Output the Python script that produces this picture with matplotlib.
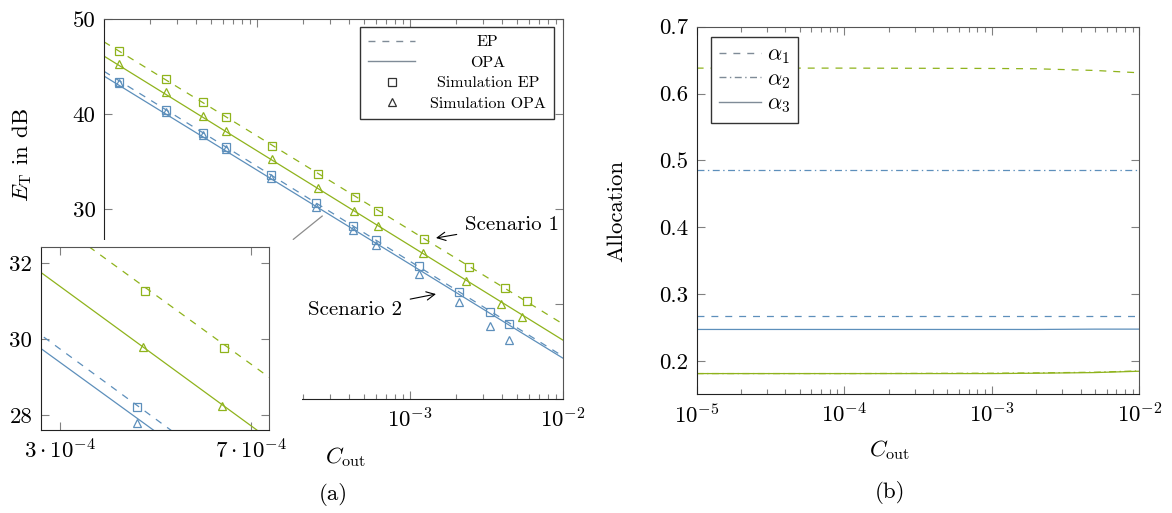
import numpy as np
import matplotlib
matplotlib.use("Agg")
import matplotlib.pyplot as plt
from matplotlib.patches import Rectangle
from matplotlib.lines import Line2D
from matplotlib.ticker import FixedLocator, LogLocator, NullFormatter, NullLocator

plt.rcParams["font.family"] = "cmr10"
plt.rcParams["mathtext.fontset"] = "cm"
plt.rcParams["axes.unicode_minus"] = False
plt.rcParams["font.size"] = 16.5
plt.rcParams["lines.scale_dashes"] = False

GREEN = "#8fb31c"
BLUE = "#5d8fbb"
HANDLE = "#7f8b97"

# ---- panel (a): E_T over C_out ----
c_line = [1e-5, 1e-2]
s1_ep_line = [47.6, 17.9]
s1_opa_line = [46.1, 16.2]
s2_ep_line = [44.5, 14.5]
s2_opa_line = [44.0, 14.3]

s1_ep_x = [1.25e-5, 2.53e-5, 4.42e-5, 6.27e-5, 1.26e-4, 2.52e-4, 4.38e-4, 6.21e-4,
           1.23e-3, 2.42e-3, 4.16e-3, 5.79e-3]
s1_ep_y = [46.66, 43.65, 41.26, 39.68, 36.66, 33.68, 31.26, 29.76, 26.81, 23.93, 21.68, 20.35]
s1_opa_x = [1.25e-5, 2.53e-5, 4.42e-5, 6.27e-5, 1.26e-4, 2.52e-4, 4.33e-4, 6.15e-4,
            1.21e-3, 2.34e-3, 3.92e-3, 5.4e-3]
s1_opa_y = [45.29, 42.28, 39.79, 38.24, 35.29, 32.21, 29.79, 28.24, 25.32, 22.42, 20.03, 18.6]

s2_x = [1.25e-5, 2.53e-5, 4.42e-5, 6.27e-5, 1.24e-4, 2.45e-4, 4.22e-4, 6.0e-4,
        1.15e-3, 2.1e-3, 3.35e-3, 4.44e-3]
s2_ep_y = [43.40, 40.42, 38.03, 36.56, 33.58, 30.60, 28.21, 26.74, 23.95, 21.26, 19.16, 17.93]
s2_opa_y = [43.23, 40.21, 37.79, 36.28, 33.26, 30.18, 27.79, 26.21, 23.19, 20.18, 17.72, 16.24]

# ---- panel (b): allocation ----
c_alloc = [1e-5, 1e-4, 1e-3, 2e-3, 5e-3, 1e-2]
s1_a1 = [0.638, 0.638, 0.6375, 0.637, 0.6345, 0.631]
s1_a2 = [0.181, 0.181, 0.1815, 0.182, 0.183, 0.185]
s1_a3 = [0.181, 0.181, 0.181, 0.1815, 0.1825, 0.1845]
s2_a1 = [0.267, 0.267, 0.267, 0.267, 0.267, 0.267]
s2_a2 = [0.486, 0.486, 0.486, 0.486, 0.486, 0.486]
s2_a3 = [0.247, 0.247, 0.247, 0.247, 0.2475, 0.2475]

EP_DASH = (0, (5, 5))
DASHDOT = (0, (5, 2.5, 1, 2.5))
MK = dict(ls="none", mfc="none", ms=6, mew=0.9)
DECADES = [1e-5, 1e-4, 1e-3, 1e-2]
DECADE_LABELS = [r"$10^{-5}$", r"$10^{-4}$", r"$10^{-3}$", r"$10^{-2}$"]


def style_axes(a):
    a.tick_params(which="both", direction="in", top=True, right=True,
                  color="#808080", labelsize=16.5)
    a.tick_params(which="major", length=6, width=0.8, pad=6)
    a.tick_params(which="minor", length=3.5, width=0.8)
    for side in ["left", "bottom"]:
        a.spines[side].set_color("#222222")
    for side in ["top", "right"]:
        a.spines[side].set_color("#555555")


def log_ticks(a, labels):
    a.set_xscale("log")
    a.set_xlim(1e-5, 1e-2)
    a.xaxis.set_major_locator(FixedLocator(DECADES))
    a.set_xticklabels(labels)
    a.xaxis.set_minor_locator(LogLocator(base=10, subs=np.arange(2, 10)))
    a.xaxis.set_minor_formatter(NullFormatter())


def draw_ep_opa(a):
    a.plot(c_line, s1_ep_line, color=GREEN, lw=0.9, ls=EP_DASH)
    a.plot(c_line, s1_opa_line, color=GREEN, lw=0.9)
    a.plot(c_line, s2_ep_line, color=BLUE, lw=0.9, ls=EP_DASH)
    a.plot(c_line, s2_opa_line, color=BLUE, lw=0.9)
    a.plot(s1_ep_x, s1_ep_y, marker="s", mec=GREEN, **MK)
    a.plot(s1_opa_x, s1_opa_y, marker="^", mec=GREEN, **MK)
    a.plot(s2_x, s2_ep_y, marker="s", mec=BLUE, **MK)
    a.plot(s2_x, s2_opa_y, marker="^", mec=BLUE, **MK)


fig = plt.figure(figsize=(11.72, 5.13), dpi=100)

# main axes (a); labels hidden behind the inset are left empty
ax = fig.add_axes([0.0887, 0.2222, 0.3916, 0.7407])
ax.set_zorder(0)
draw_ep_opa(ax)
log_ticks(ax, ["", ""] + DECADE_LABELS[2:])
ax.set_ylim(10, 50)
ax.set_yticks([10, 20, 30, 40, 50])
ax.set_yticklabels(["", "", "30", "40", "50"])
style_axes(ax)
ax.set_ylabel(r"$E_{\mathrm{T}}$ in dB")
ax.yaxis.set_label_coords(-0.179, 0.642)
ax.yaxis.label.set_va("center")
ax.set_xlabel(r"$C_{\mathrm{out}}$")
ax.xaxis.set_label_coords(0.527, -0.153)
ax.xaxis.label.set_va("center")

ax.plot([1.73e-4, 2.67e-4], [26.81, 29.26], color="#8c8c8c", lw=0.9)
arrow = dict(arrowstyle="->", color="black", lw=0.8, shrinkA=4, shrinkB=0)
ax.annotate("Scenario 1", xy=(1.48e-3, 26.95), xytext=(2.29e-3, 28.32),
            ha="left", va="center", fontsize=15, arrowprops=arrow)
ax.annotate("Scenario 2", xy=(1.48e-3, 21.05), xytext=(8.87e-4, 19.37),
            ha="right", va="center", fontsize=15, arrowprops=arrow)

handles = [Line2D([], [], color=HANDLE, lw=1, ls=EP_DASH),
           Line2D([], [], color=HANDLE, lw=1),
           Line2D([], [], marker="s", mec="#333333", **MK),
           Line2D([], [], marker="^", mec="#333333", **MK)]
leg = ax.legend(handles, ["EP", "OPA", "Simulation EP", "Simulation OPA"],
                loc="upper right", bbox_to_anchor=(0.98, 0.979), borderaxespad=0,
                fontsize=11.5, fancybox=False, framealpha=1, edgecolor="#333333",
                handlelength=3, labelspacing=0.4, borderpad=0.5, handletextpad=0.9)
leg.get_frame().set_linewidth(1)

# white area behind the inset
cover = Rectangle((0, 0.0838), 0.2577, 0.4483, transform=fig.transFigure,
                  facecolor="white", edgecolor="none", zorder=1)
fig.add_artist(cover)

# inset
axin = fig.add_axes([0.0347, 0.1618, 0.1948, 0.3567])
axin.set_zorder(2)
draw_ep_opa(axin)
axin.set_xscale("log")
axin.set_xlim(2.75e-4, 7.58e-4)
axin.set_ylim(27.6, 32.42)
axin.xaxis.set_major_locator(FixedLocator([3e-4, 7e-4]))
axin.set_xticklabels([r"$3\cdot10^{-4}$", r"$7\cdot10^{-4}$"])
axin.xaxis.set_minor_locator(NullLocator())
axin.set_yticks([28, 30, 32])
style_axes(axin)

# panel (b)
bx = fig.add_axes([0.5944, 0.2314, 0.3777, 0.7166])
bx.plot(c_alloc, s1_a1, color=GREEN, lw=0.9, ls=EP_DASH)
bx.plot(c_alloc, s1_a2, color=GREEN, lw=0.9, ls=DASHDOT)
bx.plot(c_alloc, s1_a3, color=GREEN, lw=0.9)
bx.plot(c_alloc, s2_a1, color=BLUE, lw=0.9, ls=EP_DASH)
bx.plot(c_alloc, s2_a2, color=BLUE, lw=0.9, ls=DASHDOT)
bx.plot(c_alloc, s2_a3, color=BLUE, lw=0.9)
log_ticks(bx, DECADE_LABELS)
bx.set_ylim(0.15, 0.7)
bx.set_yticks([0.2, 0.3, 0.4, 0.5, 0.6, 0.7])
bx.set_yticklabels(["0.2", "0.3", "0.4", "0.5", "0.6", "0.7"])
style_axes(bx)
bx.set_ylabel("Allocation")
bx.yaxis.set_label_coords(-0.181, 0.5)
bx.yaxis.label.set_va("center")
bx.set_xlabel(r"$C_{\mathrm{out}}$")
bx.xaxis.set_label_coords(0.436, -0.152)
bx.xaxis.label.set_va("center")

alpha_handles = [Line2D([], [], color=HANDLE, lw=1, ls=EP_DASH),
                 Line2D([], [], color=HANDLE, lw=1, ls=DASHDOT),
                 Line2D([], [], color=HANDLE, lw=1)]
leg_b = bx.legend(alpha_handles, [r"$\alpha_1$", r"$\alpha_2$", r"$\alpha_3$"],
                  loc="upper left", bbox_to_anchor=(0.032, 0.972), borderaxespad=0,
                  fontsize=16, fancybox=False, framealpha=1, edgecolor="#333333",
                  handlelength=1.9, labelspacing=0.15, borderpad=0.35, handletextpad=0.3)
leg_b.get_frame().set_linewidth(1)

fig.text(333 / 1172, 1 - 495 / 513, "(a)", ha="center", va="center", fontsize=16.5)
fig.text(890 / 1172, 1 - 493 / 513, "(b)", ha="center", va="center", fontsize=16.5)

# centre the legend texts of (a) in their column, like the original
fig.canvas.draw()
renderer = fig.canvas.get_renderer()
texts = leg.get_texts()
widths = [t.get_window_extent(renderer).width for t in texts]
for t, w in zip(texts, widths):
    t.set_x((max(widths) - w) / 2)

fig.savefig("out.png", dpi=100)
